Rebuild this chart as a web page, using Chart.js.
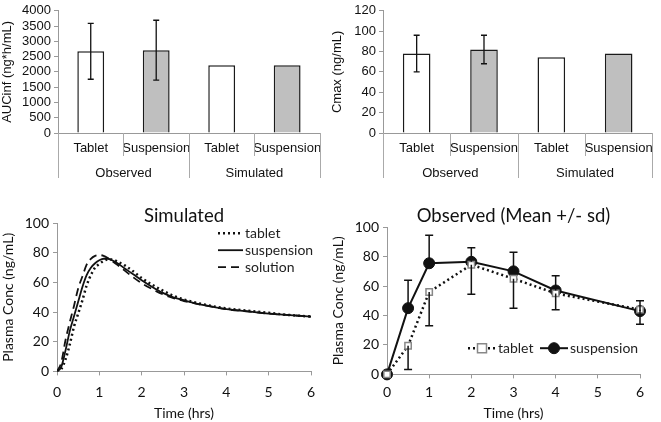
<!DOCTYPE html>
<html>
<head>
<meta charset="utf-8">
<script src="https://cdn.jsdelivr.net/npm/chart.js@4.4.1/dist/chart.umd.min.js"></script>
<style>
  body { margin: 0; background: #fff; }
  canvas { position: absolute; }
</style>
</head>
<body>
<canvas id="auc" width="330" height="195" style="left:0;top:0"></canvas>
<canvas id="cmax" width="331" height="195" style="left:330px;top:0"></canvas>
<canvas id="sim" width="330" height="217" style="left:0;top:205px"></canvas>
<canvas id="obs" width="331" height="217" style="left:330px;top:205px"></canvas>
<script>
// bar charts
var barLabels = ['Tablet', 'Suspension', 'Tablet', 'Suspension'];
var groupLabels = ['Observed', 'Simulated'];
var aucValues = [2680, 2710, 2220, 2220];
var aucLow = [1760, 1730, null, null];
var aucHigh = [3590, 3690, null, null];
var cmaxValues = [78, 82, 74.5, 78];
var cmaxLow = [60, 68, null, null];
var cmaxHigh = [96, 96, null, null];

// simulated profiles
var simTime = [0, 0.1, 0.2, 0.3, 0.4, 0.5, 0.6, 0.7, 0.8, 0.9, 1.0, 1.1, 1.2, 1.3, 1.4, 1.6, 1.8, 2.0, 2.25, 2.5, 2.75, 3.0, 3.5, 4.0, 4.5, 5.0, 5.5, 6.0];
var simTablet = [0, 1.5, 8, 18, 30, 39, 48, 58, 65, 70, 72.5, 74.5, 75.5, 75.5, 74.5, 71.5, 67.5, 63, 58.5, 54.5, 51, 48.5, 45, 42.5, 41, 39.5, 38, 37];
var simSuspension = [0, 3, 14, 27, 37, 47, 57, 65, 70, 73, 75, 76, 76, 75, 73.5, 69.5, 65.5, 61.5, 57, 53, 50, 48, 44.5, 42, 40.5, 39, 38, 37];
var simSolution = [0, 6, 21, 33, 44, 56, 64, 72, 76, 78, 78.5, 78, 76.5, 74.5, 72.5, 68, 63.5, 59.5, 55.5, 52, 49.5, 47.5, 44.5, 42, 40.5, 39, 38, 37];

// observed mean +/- sd
var obsTime = [0, 0.5, 1, 2, 3, 4, 6];
var obsTablet = [0, 19.5, 56, 74.5, 65, 55, 44];
var obsTabletLow = [null, 3.4, 33, 54.5, 45, 44, 34];
var obsSuspension = [0, 45, 75.5, 76.5, 70, 57, 43];
var obsSuspensionHigh = [null, 64, 94.5, 86, 83, 67, 50];

var topFont = { family: 'Liberation Sans, Arial, sans-serif', size: 13 };
var botFont = { family: 'Lato, sans-serif', size: 14 };
var axisGray = '#999';

var errorBars = {
  id: 'errorBars',
  afterDatasetsDraw: function(chart, args, opts) {
    var ctx = chart.ctx;
    var y = chart.scales.y;
    ctx.save();
    ctx.strokeStyle = '#111';
    ctx.lineWidth = opts.width || 1.3;
    opts.sets.forEach(function(s) {
      var meta = chart.getDatasetMeta(s.dataset);
      s.from.forEach(function(v, i) {
        if (v == null || s.to[i] == null) return;
        var x = meta.data[i].x;
        var y1 = y.getPixelForValue(v), y2 = y.getPixelForValue(s.to[i]);
        ctx.beginPath();
        ctx.moveTo(x, y1); ctx.lineTo(x, y2);
        ctx.moveTo(x - opts.cap, y2); ctx.lineTo(x + opts.cap, y2);
        if (s.capBoth) { ctx.moveTo(x - opts.cap, y1); ctx.lineTo(x + opts.cap, y1); }
        ctx.stroke();
      });
    });
    ctx.restore();
  }
};

var groupLines = {
  id: 'groupLines',
  afterDraw: function(chart, args, opts) {
    var x = chart.scales.x, ctx = chart.ctx;
    var n = barLabels.length, base = chart.chartArea.bottom;
    ctx.save();
    ctx.strokeStyle = '#aaa';
    ctx.lineWidth = 1;
    for (var i = 0; i <= n; i++) {
      var px;
      if (i == 0) px = x.left;
      else if (i == n) px = x.right;
      else px = (x.getPixelForValue(i - 1) + x.getPixelForValue(i)) / 2;
      var len = (i % 2 == 0) ? opts.outer : opts.inner;
      ctx.beginPath();
      ctx.moveTo(Math.round(px) + 0.5, base);
      ctx.lineTo(Math.round(px) + 0.5, base + len);
      ctx.stroke();
    }
    ctx.restore();
  }
};

var lineLegend = {
  id: 'lineLegend',
  afterDraw: function(chart, args, opts) {
    var ctx = chart.ctx, a = chart.chartArea;
    ctx.save();
    ctx.font = opts.size + 'px Lato, sans-serif';
    ctx.textBaseline = 'middle';
    ctx.fillStyle = '#222';
    opts.items.forEach(function(it, k) {
      var ds = chart.data.datasets[k];
      var x0 = a.left + it.x, y0 = a.top + it.y;
      ctx.strokeStyle = ds.borderColor;
      ctx.lineWidth = ds.borderWidth;
      ctx.setLineDash(ds.borderDash || []);
      ctx.beginPath();
      ctx.moveTo(x0, y0); ctx.lineTo(x0 + it.w, y0);
      ctx.stroke();
      ctx.setLineDash([]);
      if (ds.pointRadius > 0) {
        var cx = x0 + it.w / 2, r = ds.pointRadius;
        ctx.fillStyle = ds.pointBackgroundColor;
        ctx.strokeStyle = ds.pointBorderColor;
        ctx.lineWidth = ds.pointBorderWidth;
        ctx.beginPath();
        if (ds.pointStyle == 'rect') ctx.rect(cx - r, y0 - r, 2 * r, 2 * r);
        else ctx.arc(cx, y0, r, 0, Math.PI * 2);
        ctx.fill(); ctx.stroke();
        ctx.fillStyle = '#222';
      }
      ctx.fillText(ds.label, x0 + it.w + 2, y0);
    });
    ctx.restore();
  }
};

function barChart(id, values, low, high, yTitle, yMax, yStep, yWidth, padRight) {
  return new Chart(document.getElementById(id), {
    type: 'bar',
    data: {
      labels: barLabels,
      datasets: [{
        data: values,
        backgroundColor: ['#ffffff', '#bfbfbf', '#ffffff', '#bfbfbf'],
        borderColor: '#1a1a1a',
        borderWidth: 1.5,
        barPercentage: 0.41,
        categoryPercentage: 1
      }]
    },
    options: {
      responsive: false,
      animation: false,
      layout: { padding: { top: 0, right: padRight, bottom: 10, left: 0 } },
      plugins: {
        legend: { display: false },
        tooltip: { enabled: false },
        errorBars: { cap: 3, width: 1.3, sets: [{ dataset: 0, from: low, to: high, capBoth: true }] },
        groupLines: { inner: 23, outer: 45 }
      },
      scales: {
        x: {
          grid: { display: false, drawTicks: false },
          border: { color: axisGray },
          ticks: { color: '#111', font: topFont, padding: 8, maxRotation: 0, autoSkip: false },
          afterFit: function(s) { s.height = 28; }
        },
        x2: {
          type: 'category',
          labels: groupLabels,
          position: 'bottom',
          offset: true,
          grid: { display: false, drawTicks: false },
          border: { display: false },
          ticks: { color: '#111', font: topFont, padding: 5 },
          afterFit: function(s) { s.height = 24; }
        },
        y: {
          min: 0, max: yMax,
          ticks: { stepSize: yStep, autoSkip: false, color: '#111', font: topFont, padding: 3,
            callback: function(v) { return String(v); } },
          grid: { drawOnChartArea: false, tickLength: 4, color: axisGray },
          border: { color: axisGray },
          title: { display: true, text: yTitle, color: '#111', font: topFont, padding: 0 },
          afterFit: function(s) { s.width = yWidth; }
        }
      }
    },
    plugins: [errorBars, groupLines]
  });
}

barChart('auc', aucValues, aucLow, aucHigh, 'AUCinf (ng*h/mL)', 4000, 500, 58, 7);
barChart('cmax', cmaxValues, cmaxLow, cmaxHigh, 'Cmax (ng/mL)', 120, 20, 53, 3);

function toXY(xs, ys) {
  return xs.map(function(x, i) { return { x: x, y: ys[i] }; });
}

function lineOptions(title, padRight, titleGap, tickGap, xTitleGap, legendItems, extra) {
  var o = {
    responsive: false,
    animation: false,
    layout: { padding: { top: 0, right: padRight, bottom: 0, left: 0 } },
    plugins: {
      legend: { display: false },
      tooltip: { enabled: false },
      title: { display: true, text: title, fullSize: false, color: '#111', font: { family: 'Lato, sans-serif', size: 18.5, weight: 'normal' }, padding: { top: 0, bottom: titleGap } },
      lineLegend: { size: 14, items: legendItems }
    },
    scales: {
      x: {
        type: 'linear', min: 0, max: 6,
        ticks: { stepSize: 1, color: '#111', font: botFont, padding: tickGap },
        grid: { drawOnChartArea: false, tickLength: 4, color: axisGray },
        border: { color: axisGray },
        title: { display: true, text: 'Time (hrs)', color: '#111', font: botFont, padding: { top: xTitleGap, bottom: 0 } }
      },
      y: {
        min: 0, max: 100,
        ticks: { stepSize: 20, color: '#111', font: botFont, padding: 4 },
        grid: { drawOnChartArea: false, tickLength: 4, color: axisGray },
        border: { color: axisGray },
        title: { display: true, text: 'Plasma Conc (ng/mL)', color: '#111', font: botFont, padding: 0 },
        afterFit: function(s) { s.width = 57; }
      }
    }
  };
  if (extra) o.plugins.errorBars = extra;
  return o;
}

new Chart(document.getElementById('sim'), {
  type: 'line',
  data: {
    datasets: [
      { label: 'tablet', data: toXY(simTime, simTablet), borderColor: '#111', borderWidth: 2.5, borderDash: [2, 3], pointRadius: 0, cubicInterpolationMode: 'monotone' },
      { label: 'suspension', data: toXY(simTime, simSuspension), borderColor: '#111', borderWidth: 1.8, pointRadius: 0, cubicInterpolationMode: 'monotone' },
      { label: 'solution', data: toXY(simTime, simSolution), borderColor: '#111', borderWidth: 1.8, borderDash: [8, 5], pointRadius: 0, cubicInterpolationMode: 'monotone' }
    ]
  },
  options: lineOptions('Simulated', 19, -4, 9, -5, [
    { x: 161, y: 10, w: 25 },
    { x: 161, y: 27, w: 25 },
    { x: 161, y: 44, w: 25 }
  ]),
  plugins: [lineLegend]
});

new Chart(document.getElementById('obs'), {
  type: 'line',
  data: {
    datasets: [
      { label: 'tablet', data: toXY(obsTime, obsTablet), borderColor: '#111', borderWidth: 2.5, borderDash: [2, 3], clip: false,
        pointStyle: 'rect', pointRadius: 4.5, pointBackgroundColor: '#fff', pointBorderColor: '#888', pointBorderWidth: 1.5 },
      { label: 'suspension', data: toXY(obsTime, obsSuspension), borderColor: '#111', borderWidth: 2, clip: false,
        pointStyle: 'circle', pointRadius: 5.5, pointBackgroundColor: '#111', pointBorderColor: '#111', pointBorderWidth: 1 }
    ]
  },
  options: lineOptions('Observed (Mean +/- sd)', 21, 0, 6, -2, [
    { x: 81, y: 121, w: 28 },
    { x: 153, y: 121, w: 28 }
  ], { cap: 4, width: 1.5, sets: [
    { dataset: 0, from: obsTablet, to: obsTabletLow },
    { dataset: 1, from: obsSuspension, to: obsSuspensionHigh }
  ] }),
  plugins: [errorBars, lineLegend]
});
</script>
</body>
</html>
